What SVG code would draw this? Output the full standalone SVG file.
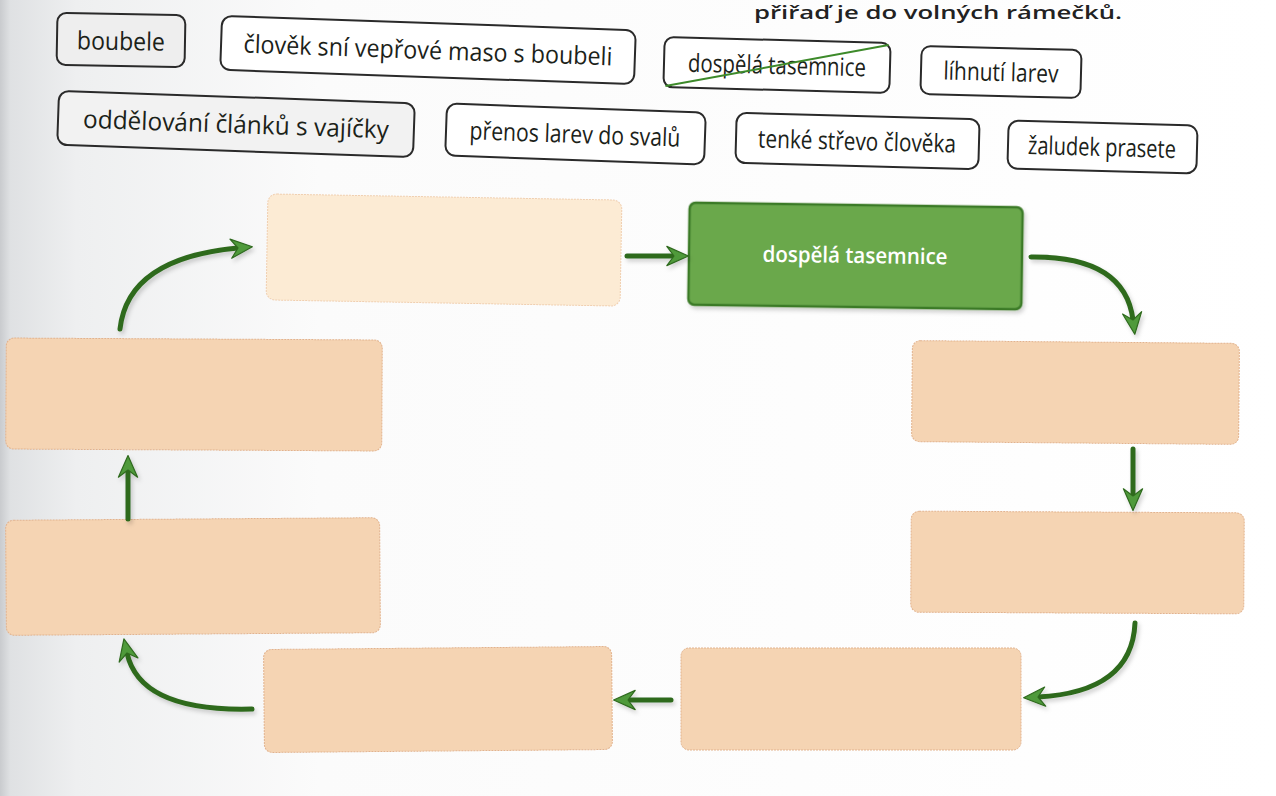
<svg xmlns="http://www.w3.org/2000/svg" width="1276" height="796" viewBox="0 0 1276 796">
  <defs>
    <linearGradient id="paper" x1="0" y1="0" x2="1" y2="0">
      <stop offset="0" stop-color="#c9cbce"/>
      <stop offset="0.008" stop-color="#dfe1e3"/>
      <stop offset="0.06" stop-color="#eeeff0"/>
      <stop offset="0.25" stop-color="#fbfbfb"/>
      <stop offset="1" stop-color="#ffffff"/>
    </linearGradient>
    <marker id="head" viewBox="0 0 20 20" refX="7" refY="10" markerWidth="24" markerHeight="24" markerUnits="userSpaceOnUse" orient="auto">
      <path d="M1,2 L19,10 L1,18 L7,10 z" fill="#4f9a3a" stroke="#2f6a1f" stroke-width="1" stroke-linejoin="round"/>
    </marker>
    <filter id="shadow" filterUnits="userSpaceOnUse" x="0" y="0" width="1276" height="796">
      <feDropShadow dx="2" dy="3" stdDeviation="2" flood-color="#000" flood-opacity="0.18"/>
    </filter>
  </defs>
  <style>
    .lbl rect { fill: #ffffff; stroke: #2a2a2a; stroke-width: 2; }
    .lbl text { font-family: "Open Sans", "Liberation Sans", sans-serif; font-size: 25px; font-weight: 500; fill: #1b2219; text-anchor: middle; }
    .slot { fill: #f5d4b3; stroke: #e2b38e; stroke-width: 1; stroke-dasharray: 2 1; }
    .slot.pale { fill: #fcebd4; stroke: #f0cfb0; }
    .green rect { fill: #6aa84c; stroke: #3b7a28; stroke-width: 2.5; }
    .green text { font-family: "Open Sans", "Liberation Sans", sans-serif; font-size: 22px; font-weight: 600; fill: #ffffff; text-anchor: middle; }
    .arr { fill: none; stroke: #2f6a1f; stroke-width: 5; stroke-linecap: round; marker-end: url(#head); filter: url(#shadow); }
  </style>

  <rect x="0" y="0" width="1276" height="796" fill="url(#paper)"/>

  <text x="1122" y="19" text-anchor="end" textLength="368" lengthAdjust="spacingAndGlyphs" font-family="Open Sans, Liberation Sans, sans-serif" font-size="18" font-weight="600" fill="#222">přiřaď je do volných rámečků.</text>

  <g id="labels">
    <g id="lbl-boubele" class="lbl" transform="rotate(1 121 40)">
      <rect x="57" y="14" width="128" height="52" rx="9" style="fill:#eeeeee"/>
      <text x="121" y="50" textLength="88" lengthAdjust="spacingAndGlyphs">boubele</text>
    </g>
    <g id="lbl-clovek" class="lbl" transform="rotate(2 428 50)">
      <rect x="221" y="23" width="414" height="54" rx="10"/>
      <text x="428" y="59" textLength="369" lengthAdjust="spacingAndGlyphs">člověk sní vepřové maso s boubeli</text>
    </g>
    <g id="lbl-dospela" class="lbl" transform="rotate(1.5 777 65)">
      <rect x="664" y="40" width="226" height="50" rx="9"/>
      <text x="777" y="74" textLength="178" lengthAdjust="spacingAndGlyphs">dospělá tasemnice</text>
      <line x1="666" y1="89" x2="888" y2="42" stroke="#3d8a2a" stroke-width="2"/>
    </g>
    <g id="lbl-lihnuti" class="lbl" transform="rotate(1.5 1001 72)">
      <rect x="921" y="48" width="160" height="48" rx="9"/>
      <text x="1001" y="81" textLength="115" lengthAdjust="spacingAndGlyphs">líhnutí larev</text>
    </g>
    <g id="lbl-oddelovani" class="lbl" transform="rotate(2 236 124)">
      <rect x="58" y="97" width="356" height="54" rx="10" style="fill:#f2f2f2"/>
      <text x="236" y="133" textLength="306" lengthAdjust="spacingAndGlyphs">oddělování článků s vajíčky</text>
    </g>
    <g id="lbl-prenos" class="lbl" transform="rotate(2 575 134)">
      <rect x="446" y="108" width="259" height="52" rx="10"/>
      <text x="575" y="143" textLength="211" lengthAdjust="spacingAndGlyphs">přenos larev do svalů</text>
    </g>
    <g id="lbl-tenke" class="lbl" transform="rotate(1.5 857 141)">
      <rect x="736" y="116" width="243" height="50" rx="10"/>
      <text x="857" y="150" textLength="198" lengthAdjust="spacingAndGlyphs">tenké střevo člověka</text>
    </g>
    <g id="lbl-zaludek" class="lbl" transform="rotate(1.5 1102 147)">
      <rect x="1008" y="123" width="189" height="48" rx="10"/>
      <text x="1102" y="156" textLength="148" lengthAdjust="spacingAndGlyphs">žaludek prasete</text>
    </g>
  </g>

  <g id="slot-top" transform="rotate(1 444 250)">
    <rect class="slot pale" x="267" y="197" width="354" height="106" rx="9"/>
  </g>
  <g id="node-dospela" class="green" transform="rotate(0.8 855 256)">
    <rect x="689" y="205" width="333" height="102" rx="6" filter="url(#shadow)"/>
    <text x="855" y="263" textLength="185" lengthAdjust="spacingAndGlyphs">dospělá tasemnice</text>
  </g>
  <g id="slot-right1" transform="rotate(0.5 1076 392)">
    <rect class="slot" x="912" y="342" width="327" height="101" rx="8"/>
  </g>
  <g id="slot-right2" transform="rotate(0.3 1078 562)">
    <rect class="slot" x="911" y="512" width="333" height="101" rx="8"/>
  </g>
  <g id="slot-bottom-right">
    <rect class="slot" x="681" y="648" width="340" height="102" rx="8"/>
  </g>
  <g id="slot-bottom-left" transform="rotate(-0.5 438 699)">
    <rect class="slot" x="264" y="648" width="348" height="103" rx="8"/>
  </g>
  <g id="slot-left2" transform="rotate(-0.4 193 576)">
    <rect class="slot" x="6" y="519" width="374" height="115" rx="8"/>
  </g>
  <g id="slot-left1" transform="rotate(0.3 194 394)">
    <rect class="slot" x="6" y="339" width="376" height="111" rx="8"/>
  </g>

  <g id="connectors">
    <path class="arr" d="M120,329 Q128,258 238,248"/>
    <path class="arr" d="M627,256 L674,256"/>
    <path class="arr" d="M1031,257 Q1125,256 1133,320"/>
    <path class="arr" d="M1133,449 L1133,496"/>
    <path class="arr" d="M1135,623 Q1132,692 1038,697"/>
    <path class="arr" d="M671,700 L628,700"/>
    <path class="arr" d="M252,709 Q140,712 127,653"/>
    <path class="arr" d="M128,519 L128,470"/>
  </g>
</svg>
